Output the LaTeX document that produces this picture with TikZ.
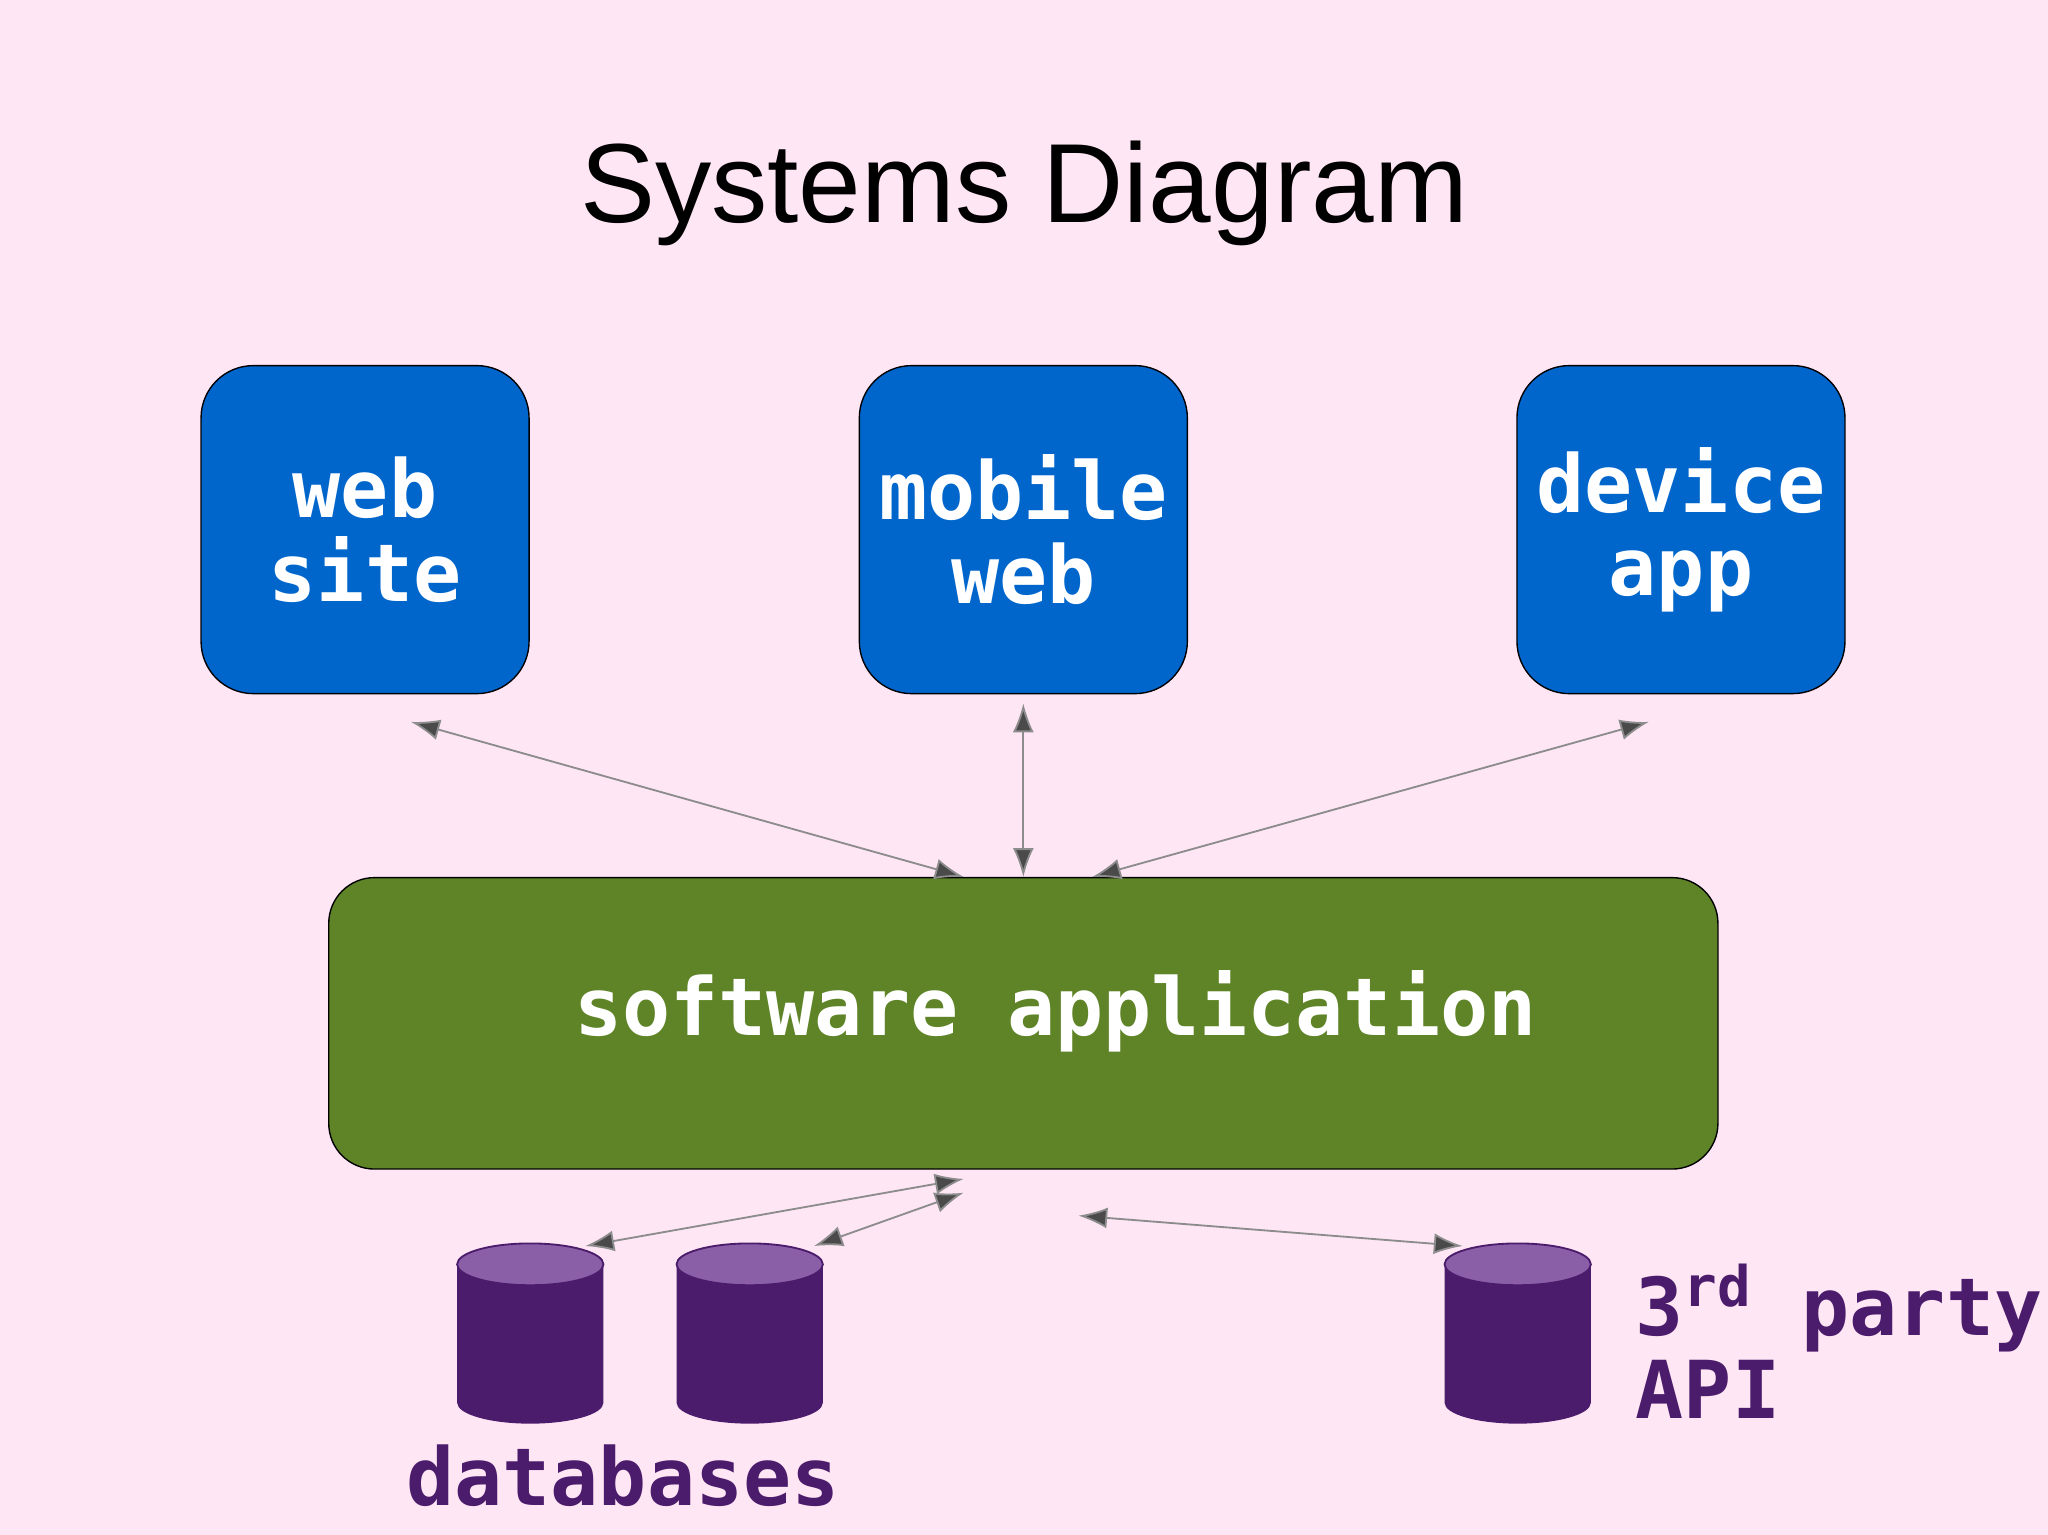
\documentclass[tikz,border=0pt]{standalone}
\usepackage{fontspec}
\setmainfont{Liberation Sans}
\newfontfamily\monofont{DejaVu Sans Mono}
\usetikzlibrary{arrows.meta}
\definecolor{bg}{HTML}{FFE6F5}
\definecolor{boxblue}{HTML}{0066CC}
\definecolor{appgreen}{HTML}{5E8427}
\definecolor{dbdark}{HTML}{4B1C6B}
\definecolor{dblight}{HTML}{8A5FA8}
\definecolor{wire}{HTML}{8C8C8C}
\definecolor{tip}{HTML}{4A4A4A}
\begin{document}
\begin{tikzpicture}[x=0.01cm,y=0.01cm,
  client/.style={draw=black, line width=0.3pt, fill=boxblue, rounded corners=0.4cm,
    minimum width=2.51cm, minimum height=2.51cm, align=center, text=white,
    font=\monofont\bfseries\fontsize{17.4}{18.2}\selectfont},
  link/.style={draw=wire, line width=0.4pt,
    {Latex[length=0.22cm,width=0.16cm,fill=tip]}-{Latex[length=0.22cm,width=0.16cm,fill=tip]}},
  purple label/.style={text=dbdark, font=\monofont\bfseries\fontsize{17.4}{18.2}\selectfont}]

  \fill[bg] (0,0) rectangle (1568,1175);
  \useasboundingbox (0,0) rectangle (1568,1175);

  \node (title) at (784,1027) {\fontsize{24.5}{28}\selectfont Systems Diagram};

  % clients
  \node[client] (web) at (279.5,769.5) {web\\site};
  \node[client] (mobile) at (783.5,769.5) {mobile\\web};
  \node[client] (device) at (1287,769.5) {device\\app};

  % application
  \node[draw=black, line width=0.3pt, fill=appgreen, rounded corners=0.35cm,
    minimum width=10.63cm, minimum height=2.23cm] (app) at (783.5,391.5) {};
  \node[text=white, font=\monofont\bfseries\fontsize{17.4}{18.2}\selectfont]
    (applabel) at (808,401) {software application};

  % data stores
  \foreach \n/\cx in {db1/406, db2/574, api/1162} {
    \fill[dbdark] (\cx-56,207) -- (\cx-56,101) arc[start angle=180,end angle=360,x radius=56,y radius=16] -- (\cx+56,207) -- cycle;
    \draw[fill=dblight, draw=dbdark, line width=0.4pt] (\cx,207) ellipse[x radius=56,y radius=16];
    \coordinate (\n) at (\cx,221);
  }

  \node[purple label] (dblabel) at (477,45) {databases};
  \node[purple label, anchor=west, align=left] (apilabel) at (1240,148)
    {3\textsuperscript{rd} party\\API};

  % connectors
  \draw[link] ([xshift=10pt,yshift=-6pt]web.south) -- ([xshift=-13pt]app.north);
  \draw[link] ([yshift=-2pt]mobile.south) -- (app.north);
  \draw[link] ([xshift=-7pt,yshift=-6pt]device.south) -- ([xshift=15pt]app.north);
  \draw[link] ([xshift=-13pt,yshift=-2pt]app.south) -- ([xshift=12pt]db1);
  \draw[link] ([xshift=-13pt,yshift=-5pt]app.south) -- ([xshift=14pt]db2);
  \draw[link] ([xshift=12pt,yshift=-10pt]app.south) -- ([xshift=-12pt]api);
\end{tikzpicture}
\end{document}
